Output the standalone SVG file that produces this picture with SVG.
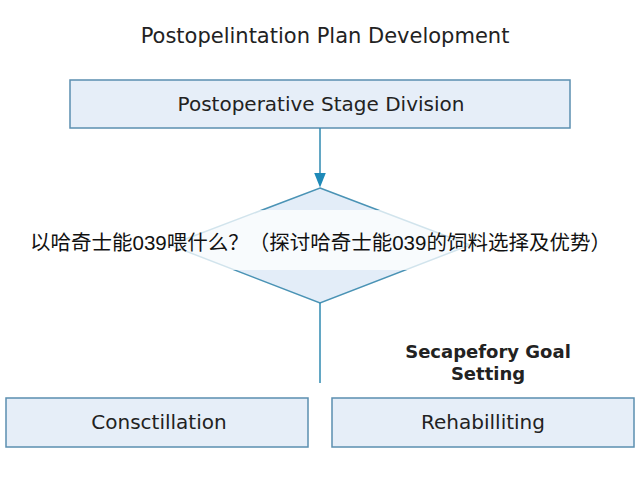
<svg xmlns="http://www.w3.org/2000/svg" width="640" height="480" viewBox="0 0 640 480">
<style>
.box{fill:#e6eef8;stroke:#5b8fb0;stroke-width:1.5}
.t{font-family:"DejaVu Sans",Verdana,sans-serif;fill:#222;text-anchor:middle}
.cn{font-family:"Liberation Sans","Noto Sans CJK SC",sans-serif;fill:#111;font-size:20.5px}
.ln{stroke:#2f8ab0;stroke-width:1.5;fill:none}
</style>
<defs><marker id="ah" markerWidth="10" markerHeight="10" refX="5" refY="5" orient="auto"><path d="M0,1 L10,5 L0,9 Z" fill="#1f8ab8"/></marker></defs>
<rect width="640" height="480" fill="#fff"/>
<text class="t" x="325" y="43" font-size="21">Postopelintation Plan Development</text>
<g id="stage"><rect class="box" x="70" y="80" width="500" height="48"/><text class="t" x="321" y="111" font-size="20">Postoperative Stage Division</text></g>
<g id="decision"><polygon points="320,188 470,245 320,303 170,245" fill="#e3edf8" stroke="#4a93b5" stroke-width="1.5"/><rect x="150" y="210" width="340" height="60" fill="#fff" opacity="0.75"/></g>
<g id="c1"><rect class="box" x="6" y="398" width="302" height="49"/><text class="t" x="159" y="429" font-size="20">Consctillation</text></g>
<g id="c2"><rect class="box" x="332" y="398" width="302" height="49"/><text class="t" x="483" y="429" font-size="20">Rehabilliting</text></g>
<g id="connectors"><line class="ln" x1="320" y1="128" x2="320" y2="180" marker-end="url(#ah)"/><line class="ln" x1="320" y1="303" x2="320" y2="383"/></g>
<text class="cn" x="30" y="250">以哈奇士能039喂什么？（探讨哈奇士能039的饲料选择及优势）</text>
<text class="t" x="488" y="358" font-size="18" font-weight="bold">Secapefory Goal</text>
<text class="t" x="488" y="380" font-size="18" font-weight="bold">Setting</text>
</svg>
